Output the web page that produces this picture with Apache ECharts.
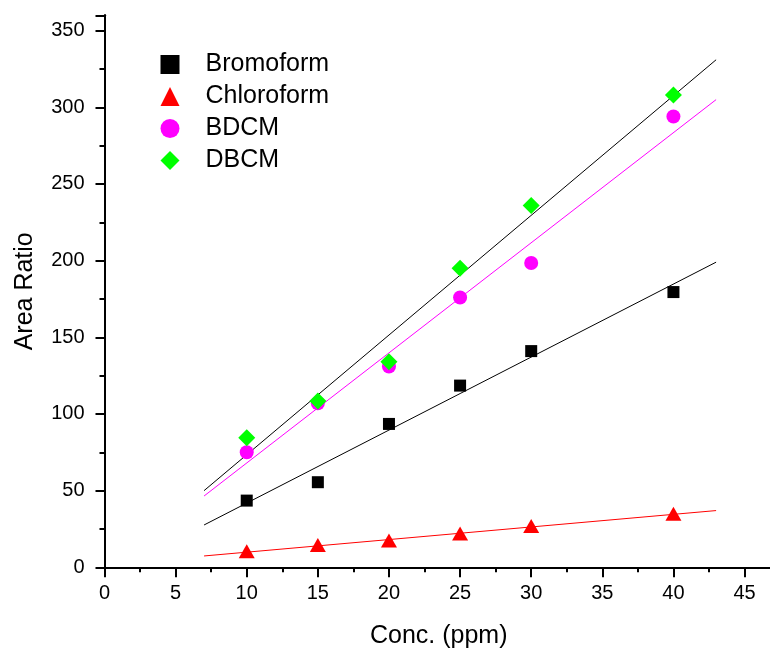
<!DOCTYPE html>
<html>
<head>
<meta charset="utf-8">
<script src="https://cdn.jsdelivr.net/npm/echarts@6/dist/echarts.min.js"></script>
<style>html,body{margin:0;padding:0;background:#fff;}#c{width:770px;height:648px;}</style>
</head>
<body>
<div id="c"></div>
<script>
// ---- data ----
const conc = [10, 15, 20, 25, 30, 40];
const bromoform = [43.5, 55.5, 93.5, 118.5, 141, 179.5];
const chloroform = [10.5, 14.5, 17.5, 22, 27, 35];
const bdcm = [75, 107, 131, 176, 198.5, 294];
const dbcm = [84.5, 108.5, 134, 195, 236, 308];
// fitted lines, read end points at x = 7 and x = 43
const fitX = [7, 43];
const fitBromoform = [27.6, 199];
const fitChloroform = [7.4, 37];
const fitBDCM = [46.5, 305];
const fitDBCM = [50, 331];
const seriesNames = ['Bromoform', 'Chloroform', 'BDCM', 'DBCM'];
const xTicks = [0, 5, 10, 15, 20, 25, 30, 35, 40, 45];
const yTicks = [0, 50, 100, 150, 200, 250, 300, 350];

const FONT = '"Liberation Sans", Arial, sans-serif';
const pts = (xs, ys) => xs.map((x, i) => [x, ys[i]]);

function xAx(pos, interval, len, inside, main) {
  return {
    type: 'value', position: pos, min: 0, max: 47, interval: interval,
    axisLine: { show: main, lineStyle: { color: '#000', width: 2 } },
    axisTick: { show: true, inside: inside, length: len, lineStyle: { color: '#000', width: 2 } },
    axisLabel: { show: main && pos === 'bottom', showMaxLabel: false, margin: 16,
      fontSize: 20, color: '#000', fontFamily: FONT },
    splitLine: { show: false },
    name: (main && pos === 'bottom') ? 'Conc. (ppm)' : '',
    nameLocation: 'middle', nameGap: 56,
    nameTextStyle: { fontSize: 25, color: '#000', fontFamily: FONT }
  };
}
function yAx(pos, interval, len, inside, main) {
  return {
    type: 'value', position: pos, min: 0, max: 360, interval: interval,
    axisLine: { show: main, lineStyle: { color: '#000', width: 2 } },
    axisTick: { show: true, inside: inside, length: len, lineStyle: { color: '#000', width: 2 } },
    axisLabel: { show: main && pos === 'left', showMaxLabel: false, margin: 20,
      fontSize: 20, color: '#000', fontFamily: FONT },
    splitLine: { show: false },
    name: (main && pos === 'left') ? 'Area Ratio' : '',
    nameLocation: 'middle', nameGap: 67,
    nameTextStyle: { fontSize: 25, color: '#000', fontFamily: FONT }
  };
}

const colors = { Bromoform: '#000000', Chloroform: '#ff0000', BDCM: '#ff00ff', DBCM: '#00ff00' };

function fit(ys, color) {
  return { type: 'line', data: pts(fitX, ys), symbol: 'none', silent: true, z: 1,
    lineStyle: { color: color, width: 1 }, xAxisIndex: 0, yAxisIndex: 0 };
}
function sc(name, ys, symbol, size) {
  return { type: 'scatter', name: name, data: pts(conc, ys), symbol: symbol, symbolSize: size, z: 3,
    itemStyle: { color: colors[name], opacity: 1 }, xAxisIndex: 0, yAxisIndex: 0 };
}

const chart = echarts.init(document.getElementById('c'), null, { renderer: 'canvas' });
chart.setOption({
  animation: false,
  grid: { left: 104.5, right: -3, top: 15.3, bottom: 80.7, containLabel: false, outerBoundsMode: 'none' },
  xAxis: [
    xAx('bottom', 5, 10, false, true),
    xAx('bottom', 2.5, 5, false, false),
    xAx('top', 5, 10, true, true),
    xAx('top', 2.5, 5, true, false)
  ],
  yAxis: [
    yAx('left', 50, 9, false, true),
    yAx('left', 25, 5, false, false),
    yAx('right', 50, 9, true, true),
    yAx('right', 25, 5, true, false)
  ],
  legend: {
    orient: 'vertical', left: 155.5, top: 47, itemWidth: 19, itemHeight: 19, itemGap: 7,
    data: seriesNames,
    textStyle: { fontSize: 25, color: '#000', fontFamily: FONT, padding: [0, 0, 0, 21] }
  },
  series: [
    fit(fitDBCM, '#000000'),
    fit(fitBDCM, '#ff00ff'),
    fit(fitBromoform, '#000000'),
    fit(fitChloroform, '#ff0000'),
    sc('Bromoform', bromoform, 'rect', 12),
    sc('Chloroform', chloroform, 'triangle', [16, 14]),
    sc('BDCM', bdcm, 'circle', 14),
    sc('DBCM', dbcm, 'diamond', [17, 17])
  ]
});
</script>
</body>
</html>
